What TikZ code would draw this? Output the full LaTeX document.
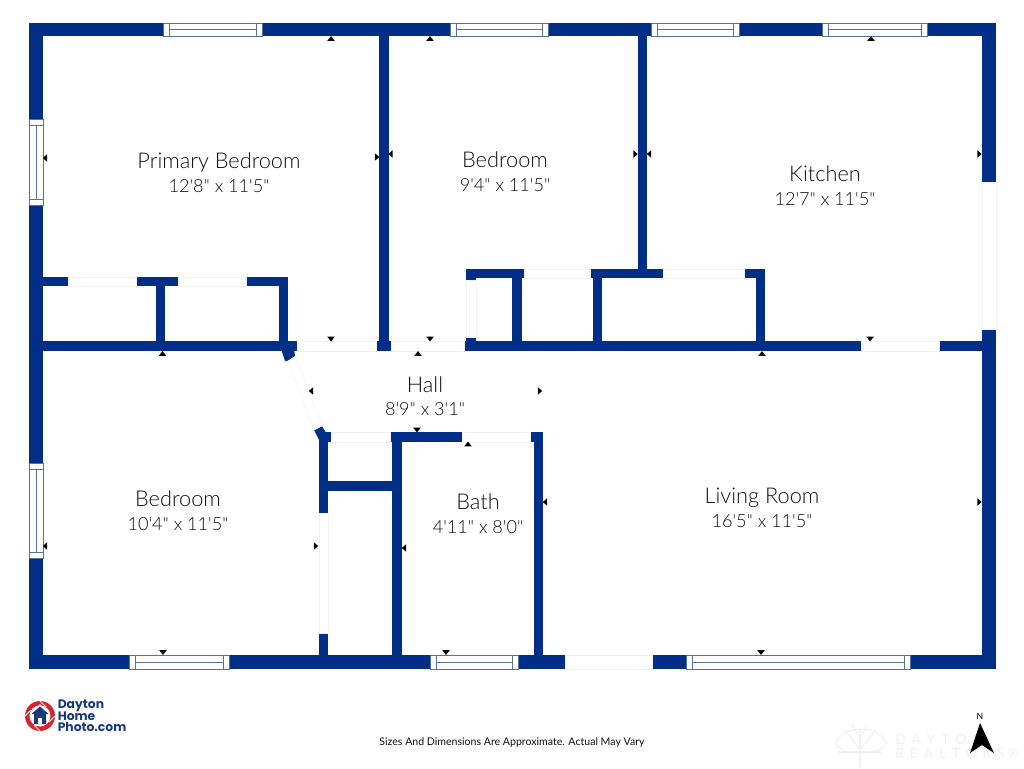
\documentclass[tikz,border=0pt]{standalone}
\usepackage{fontspec}
\newfontfamily\labelfont{Lato Light}
\newfontfamily\logofont{Poppins}[BoldFont=* Bold]
\newfontfamily\smallfont{Lato}
\definecolor{wallc}{HTML}{012F87}
\definecolor{winline}{HTML}{56709E}
\definecolor{doorline}{HTML}{F0F1F4}
\definecolor{logored}{HTML}{D8252C}
\definecolor{logoblue}{HTML}{1B3A7E}
\definecolor{textc}{HTML}{111111}
\definecolor{wmark}{HTML}{F1F1F1}
\tikzset{
  wallfill/.style={fill=wallc,draw=none},
  winbox/.style={fill=white,draw=winline,line width=0.6pt},
  winrule/.style={draw=winline,line width=0.7pt},
  doorbox/.style={fill=white,draw=doorline,line width=0.4pt},
  tick/.style={fill=black,draw=none},
  roomtitle/.style={font=\labelfont\fontsize{16.3}{16.3}\selectfont,text=textc,anchor=base,inner sep=0pt},
  roomdim/.style={font=\labelfont\fontsize{13.6}{13.6}\selectfont,text=textc,anchor=base,inner sep=0pt},
  logotext/.style={font=\logofont\bfseries\fontsize{9.25}{9.25}\selectfont,text=logoblue,anchor=west,inner sep=0pt},
  wmtext/.style={font=\smallfont\fontsize{10.5}{10.5}\selectfont,text=wmark,anchor=west,inner sep=0pt}
}
\newcommand{\wl}[4]{\fill[wallfill] (#1,#2) rectangle (#3,#4);}
\newcommand{\doorbx}[4]{\filldraw[doorbox] (#1,#2) rectangle (#3,#4);}
\newcommand{\wg}{\hspace{4.3pt}}
% horizontal window x1 x2 y1 y2
\newcommand{\winh}[4]{%
  \filldraw[winbox] (#1,#3) rectangle (#2,#4);
  \draw[winrule] ({#1+6},#3) -- ({#1+6},#4);
  \draw[winrule] ({#2-6},#3) -- ({#2-6},#4);
  \draw[winrule] ({#1+6},{(#3+#4)/2}) -- ({#2-6},{(#3+#4)/2});}
% vertical window x1 x2 y1 y2
\newcommand{\winv}[4]{%
  \filldraw[winbox] (#1,#3) rectangle (#2,#4);
  \draw[winrule] (#1,{#3+6}) -- (#2,{#3+6});
  \draw[winrule] (#1,{#4-6}) -- (#2,{#4-6});
  \draw[winrule] ({(#1+#2)/2},{#3+6}) -- ({(#1+#2)/2},{#4-6});}
\newcommand{\tup}[2]{\fill[tick] ({#1-3.8},{#2+2.4}) -- (#1,{#2-2.4}) -- ({#1+3.8},{#2+2.4}) -- cycle;}
\newcommand{\tdn}[2]{\fill[tick] ({#1-3.8},{#2-2.4}) -- (#1,{#2+2.4}) -- ({#1+3.8},{#2-2.4}) -- cycle;}
\newcommand{\tlf}[2]{\fill[tick] ({#1+2.2},{#2-3.8}) -- ({#1-2.2},#2) -- ({#1+2.2},{#2+3.8}) -- cycle;}
\newcommand{\trt}[2]{\fill[tick] ({#1-2.2},{#2-3.8}) -- ({#1+2.2},#2) -- ({#1-2.2},{#2+3.8}) -- cycle;}
% id, x, title baseline, dim baseline, title, dimensions
\newcommand{\roomlbl}[6]{%
  \node[roomtitle] (#1t) at (#2,#3) {#5};
  \node[roomdim] (#1d) at (#2,#4) {#6};}
\begin{document}
\begin{tikzpicture}[x=0.75pt,y=-0.75pt]
\useasboundingbox (0,0) rectangle (1024,768);
\fill[white] (0,0) rectangle (1024,768);

% watermark
\node[wmtext] (wmA) at (895,739) {D\wg A\wg Y\wg T\wg O\wg N};
\node[wmtext] (wmB) at (895,753) {R\wg E\wg A\wg L\wg T\wg O\wg R\wg S\,®};
\begin{scope}[draw=wmark,line width=0.8pt]
\draw (860,768) -- (860,728);
\draw (836,744) .. controls (842,724) and (878,724) .. (887,744);
\draw (836,744) .. controls (842,756) and (878,756) .. (887,744);
\draw (838,752) -- (882,752);
\draw (845,730) -- (860,750) -- (876,730);
\draw (852,724) -- (860,738) -- (868,724);
\end{scope}

% outer walls
\wl{29}{23}{996}{36}
\wl{29}{23}{43}{669}
\wl{29}{655}{996}{669}
\wl{982}{23}{996}{182}
\wl{982}{329}{996}{669}
\doorbx{982}{182}{996}{329}

% interior walls
\wl{379}{36}{389}{351}
\wl{376}{341}{391}{351}
\wl{638}{36}{647}{278}
\wl{43}{341}{297}{351}
\wl{464}{341}{861}{351}
\wl{939}{341}{982}{351}
% left closets
\wl{43}{277}{68}{286}
\wl{136}{277}{178}{286}
\wl{246}{277}{288}{286}
\wl{156}{286}{165}{341}
\wl{279}{277}{288}{341}
% right closets
\wl{466}{269}{524}{278}
\wl{590}{269}{663}{278}
\wl{744}{269}{765}{278}
\wl{512}{278}{522}{341}
\wl{593}{278}{602}{341}
\wl{756}{278}{765}{341}
\wl{466}{278}{476}{280}
\wl{466}{337}{476}{341}
% hall and bath
\wl{319}{432}{331}{442}
\wl{390}{432}{462}{442}
\wl{530}{432}{543}{442}
\wl{319}{432}{328}{513}
\wl{319}{633}{328}{655}
\wl{392}{432}{402}{655}
\wl{534}{432}{543}{655}
\wl{328}{481}{392}{491}
% diagonal stubs
\fill[wallfill] (281,349) -- (294,349) -- (295,356) -- (287,361) -- (285,361) -- cycle;
\fill[wallfill] (314,430) -- (322,426) -- (328,436) -- (319,440) -- cycle;

% doors
\doorbx{297}{341}{376}{351}
\doorbx{391}{341}{464}{351}
\doorbx{861}{341}{939}{351}
\doorbx{68}{277}{136}{286}
\doorbx{178}{277}{246}{286}
\doorbx{524}{269}{590}{278}
\doorbx{663}{269}{744}{278}
\doorbx{466}{280}{476}{337}
\doorbx{331}{432}{390}{442}
\doorbx{462}{432}{530}{442}
\doorbx{319}{513}{328}{633}
\doorbx{565}{655}{652}{669}
\filldraw[doorbox] (288,361) -- (296,357) -- (322,426) -- (314,430) -- cycle;

% windows
\winh{163}{262}{23}{36}
\winh{450}{548}{23}{36}
\winh{651}{739}{23}{36}
\winh{822}{927}{23}{36}
\winh{129}{229}{655}{669}
\winh{430}{518}{655}{669}
\winh{686}{910}{655}{669}
\winv{29}{43}{119}{205}
\winv{29}{43}{463}{558}

% dimension ticks
\tup{331}{38.5}\tup{430}{38.5}\tup{871}{38.5}
\tlf{45}{158}\trt{377}{157}\tlf{390.5}{154}\trt{635.5}{154}\tlf{649}{154}\trt{979.5}{154}
\tdn{331}{339}\tdn{430}{339}\tdn{870}{339}
\tup{418}{353.5}\tup{162.5}{353.5}\tup{762}{353.5}
\tlf{311}{391}\trt{540}{391}
\tdn{417}{430}\tup{468}{444}
\tlf{45}{546}\trt{316}{546}\tlf{404}{548}\tlf{545}{502}\trt{979.5}{502}
\tdn{163}{652.5}\tdn{446}{652.5}\tdn{761}{652.5}

% room labels
\roomlbl{ra}{219}{168}{192}{Primary Bedroom}{12'8" x 11'5"}
\roomlbl{rb}{505}{167}{191}{Bedroom}{9'4" x 11'5"}
\roomlbl{rc}{825}{181}{205}{Kitchen}{12'7" x 11'5"}
\roomlbl{rd}{425}{392}{415}{Hall}{8'9" x 3'1"}
\roomlbl{re}{178}{506}{530}{Bedroom}{10'4" x 11'5"}
\roomlbl{rf}{478}{509}{533}{Bath}{4'11" x 8'0"}
\roomlbl{rg}{762}{503}{527}{Living Room}{16'5" x 11'5"}

% logo
\fill[logored] (40,716) circle (15);
\fill[white] (40,716) circle (10.5);
\draw[white,line width=0.6pt] (40,701) -- (46,707) (55,716) -- (49,722) (40,731) -- (34,725) (25,716) -- (31,710);
\fill[white] (31,713) -- (40,704) -- (49,713) -- (47,716) -- (33,716) -- cycle;
\fill[logoblue] (31.5,714) -- (40,706.5) -- (48.5,714) -- (46,714) -- (46,724) -- (34,724) -- (34,714) -- cycle;
\fill[white] (38,724) rectangle (42,718);
\node[logotext] (l1) at (57.5,706) {Dayton};
\node[logotext] (l2) at (57.5,716.5) {Home};
\node[logotext] (l3) at (57.5,727) {Photo.com};

% footer
\node[font=\smallfont\fontsize{7.93}{7.93}\selectfont,text=textc,inner sep=0pt] (foot) at (512,742) {Sizes And Dimensions Are Approximate. Actual May Vary};

% north arrow
\node[font=\smallfont\fontsize{6.5}{6.5}\selectfont,text=black,inner sep=0pt] (north) at (980,716) {N};
\fill[black] (980,723) -- (970,753) -- (982,745) -- (994,753) -- cycle;
\end{tikzpicture}
\end{document}
